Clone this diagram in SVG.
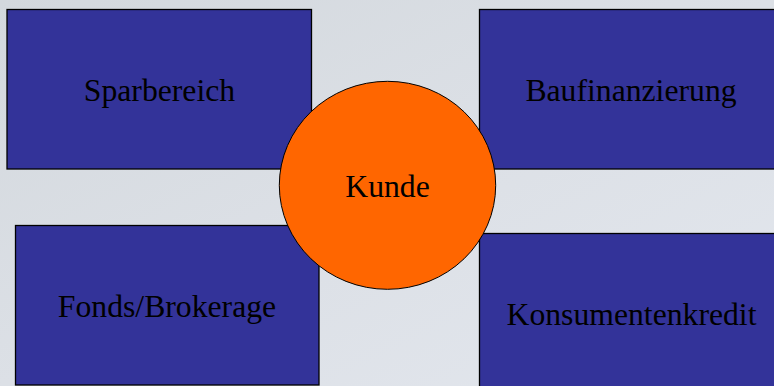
<svg xmlns="http://www.w3.org/2000/svg" width="774" height="386" viewBox="0 0 774 386">
<defs>
<linearGradient id="bg" x1="0" y1="0" x2="1" y2="1">
<stop offset="0" stop-color="#d3d8dd"/>
<stop offset="0.5" stop-color="#dce0e6"/>
<stop offset="1" stop-color="#e3e7ee"/>
</linearGradient>
<style>
.box{fill:#333399;stroke:#000;stroke-width:1.3}
.lbl{font-family:"Liberation Serif","Times New Roman",serif;font-size:31.7px;fill:#000;text-anchor:middle}
</style>
</defs>
<rect width="774" height="386" fill="url(#bg)"/>
<g id="connectors"/>
<g id="sparbereich">
<rect class="box" x="7" y="9.5" width="304.5" height="159.5"/>
<text class="lbl" x="159.5" y="100.7">Sparbereich</text>
</g>
<g id="baufinanzierung">
<rect class="box" x="479.5" y="9.5" width="310" height="159.5"/>
<text class="lbl" x="631" y="100.7">Baufinanzierung</text>
</g>
<g id="fonds">
<rect class="box" x="15.5" y="225.5" width="303.5" height="159.5"/>
<text class="lbl" x="167" y="316.7">Fonds/Brokerage</text>
</g>
<g id="konsumentenkredit">
<rect class="box" x="479.5" y="233.5" width="310" height="170"/>
<text class="lbl" x="631.5" y="325">Konsumentenkredit</text>
</g>
<g id="kunde">
<ellipse cx="387.5" cy="185.3" rx="108.2" ry="104" fill="#ff6600" stroke="#000" stroke-width="1"/>
<text class="lbl" x="387.5" y="197">Kunde</text>
</g>
</svg>
